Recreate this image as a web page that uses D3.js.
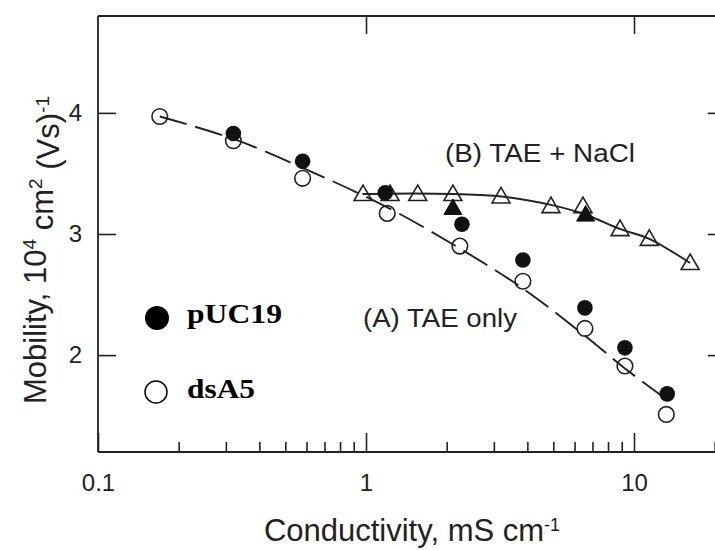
<!DOCTYPE html>
<html>
<head>
<meta charset="utf-8">
<script src="https://cdn.jsdelivr.net/npm/d3@7"></script>
<style>
  html, body { margin: 0; padding: 0; background: #fff; }
  svg { display: block; }
</style>
</head>
<body>
<div id="chart"></div>
<script>
// Data
const dsA5Cond = [0.17, 0.32, 0.58, 1.2, 2.24, 3.85, 6.56, 9.25, 13.2];
const dsA5Mob = [3.97, 3.77, 3.46, 3.17, 2.90, 2.61, 2.22, 1.91, 1.51];

const pUC19Cond = [0.32, 0.58, 1.18, 2.28, 3.85, 6.56, 9.25, 13.3];
const pUC19Mob = [3.83, 3.60, 3.34, 3.08, 2.785, 2.39, 2.06, 1.68];

const naclOpenCond = [0.975, 1.23, 1.56, 2.11, 3.19, 4.90, 6.45, 8.87, 11.4, 16.2];
const naclOpenMob = [3.33, 3.33, 3.33, 3.33, 3.31, 3.23, 3.23, 3.04, 2.96, 2.76];

const naclFilledCond = [2.11, 6.6];
const naclFilledMob = [3.215, 3.16];

// fitted curves (A dashed, B solid)
const fitACond = [0.17, 0.32, 0.575, 1.2, 2.24, 3.85, 6.56, 9.25, 13.9];
const fitAMob = [3.97, 3.785, 3.55, 3.22, 2.88, 2.55, 2.16, 1.89, 1.60];
const fitBCond = [0.97, 1.5, 2.1, 3.2, 4.9, 6.5, 8.9, 11.4, 16.2];
const fitBMob = [3.33, 3.335, 3.33, 3.31, 3.24, 3.165, 3.04, 2.96, 2.76];

const xMajor = [0.1, 1, 10];
const xMinor = [0.2, 0.3, 0.4, 0.5, 0.6, 0.7, 0.8, 0.9, 2, 3, 4, 5, 6, 7, 8, 9, 20];
const yTicks = [2, 3, 4];

const legendLabels = ["pUC19", "dsA5"];
const curveLabels = ["(A) TAE only", "(B) TAE + NaCl"];

const width = 715, height = 550;
const ink = "#222";

const svg = d3.select("#chart").append("svg")
  .attr("width", width)
  .attr("height", height)
  .style("font-family", "'Liberation Sans', Arial, Helvetica, sans-serif");

// Scales
const x = d3.scaleLog().domain([0.1, 22]).range([98, 98 + 268 * Math.log10(220)]);
const y = d3.scaleLinear().domain([1.2, 4.8]).range([452, 16]);

const zip = (a, b) => a.map((v, i) => [v, b[i]]);

// Bottom axis, major ticks with labels
svg.append("g")
  .attr("transform", `translate(0,${y(1.2)})`)
  .call(d3.axisBottom(x).tickValues(xMajor).tickSize(-19).tickSizeOuter(0).tickPadding(22)
    .tickFormat(d => d3.format("~g")(d)))
  .call(g => g.select(".domain").remove())
  .call(g => g.selectAll("line").attr("stroke", ink).attr("stroke-width", 1.6))
  .call(g => g.selectAll("text").attr("fill", ink).style("font-size", "24px"));

// Bottom axis, minor ticks
svg.append("g")
  .attr("transform", `translate(0,${y(1.2)})`)
  .call(d3.axisBottom(x).tickValues(xMinor).tickSize(-10).tickSizeOuter(0).tickFormat(""))
  .call(g => g.select(".domain").remove())
  .call(g => g.selectAll("line").attr("stroke", ink).attr("stroke-width", 1.6));

// Top axis
svg.append("g")
  .attr("transform", `translate(0,${y(4.8)})`)
  .call(d3.axisTop(x).tickValues([1, 10]).tickSize(-18).tickSizeOuter(0).tickFormat(""))
  .call(g => g.select(".domain").remove())
  .call(g => g.selectAll("line").attr("stroke", ink).attr("stroke-width", 1.6));

// Left axis
svg.append("g")
  .attr("transform", `translate(${x(0.1)},0)`)
  .call(d3.axisLeft(y).tickValues(yTicks).tickSize(-18).tickSizeOuter(0).tickPadding(16)
    .tickFormat(d3.format("d")))
  .call(g => g.select(".domain").remove())
  .call(g => g.selectAll("line").attr("stroke", ink).attr("stroke-width", 1.6))
  .call(g => g.selectAll("text").attr("fill", ink).style("font-size", "24px"));

// Right axis (line itself sits just off the picture)
svg.append("g")
  .attr("transform", `translate(${x(22)},0)`)
  .call(d3.axisRight(y).tickValues(yTicks).tickSize(-18).tickSizeOuter(0).tickFormat(""))
  .call(g => g.select(".domain").remove())
  .call(g => g.selectAll("line").attr("stroke", ink).attr("stroke-width", 1.6));

// Frame lines
const frame = svg.append("g").attr("stroke", ink).attr("stroke-width", 1.8).attr("fill", "none");
frame.append("line").attr("x1", x(0.1)).attr("x2", x(22)).attr("y1", y(1.2)).attr("y2", y(1.2));
frame.append("line").attr("x1", x(0.1)).attr("x2", x(22)).attr("y1", y(4.8)).attr("y2", y(4.8));
frame.append("line").attr("x1", x(0.1)).attr("x2", x(0.1)).attr("y1", y(1.2)).attr("y2", y(4.8));
frame.append("line").attr("x1", x(22)).attr("x2", x(22)).attr("y1", y(1.2)).attr("y2", y(4.8));

// Axis titles
const xTitle = svg.append("text")
  .attr("x", 412)
  .attr("y", 541)
  .attr("text-anchor", "middle")
  .attr("fill", ink)
  .style("font-size", "31px");
xTitle.append("tspan").text("Conductivity, mS cm");
xTitle.append("tspan").attr("dy", "-0.55em").style("font-size", "18px").text("-1");

const yTitle = svg.append("text")
  .attr("transform", "translate(46,250) rotate(-90)")
  .attr("text-anchor", "middle")
  .attr("fill", ink)
  .style("font-size", "31px");
yTitle.append("tspan").text("Mobility, 10");
yTitle.append("tspan").attr("dy", "-0.55em").style("font-size", "19px").text("4");
yTitle.append("tspan").attr("dy", "0.55em").text(" cm");
yTitle.append("tspan").attr("dy", "-0.55em").style("font-size", "19px").text("2");
yTitle.append("tspan").attr("dy", "0.55em").text(" (Vs)");
yTitle.append("tspan").attr("dy", "-0.55em").style("font-size", "19px").text("-1");

// Triangle marker path
const tri = "M0,-9L9,6.5L-9,6.5Z";

// Open markers first (lines pass over them)
svg.append("g").selectAll("circle")
  .data(zip(dsA5Cond, dsA5Mob))
  .join("circle")
  .attr("cx", d => x(d[0]))
  .attr("cy", d => y(d[1]))
  .attr("r", 7.8)
  .attr("fill", "#fff")
  .attr("stroke", ink)
  .attr("stroke-width", 1.6);

svg.append("g").selectAll("path")
  .data(zip(naclOpenCond, naclOpenMob))
  .join("path")
  .attr("transform", d => `translate(${x(d[0])},${y(d[1])})`)
  .attr("d", tri)
  .attr("fill", "#fff")
  .attr("stroke", ink)
  .attr("stroke-width", 1.6);

// Fit curves
const line = d3.line()
  .x(d => x(d[0]))
  .y(d => y(d[1]))
  .curve(d3.curveCatmullRom);

svg.append("path")
  .datum(zip(fitACond, fitAMob))
  .attr("d", line)
  .attr("fill", "none")
  .attr("stroke", ink)
  .attr("stroke-width", 1.9)
  .attr("stroke-dasharray", "28,9");

svg.append("path")
  .datum(zip(fitBCond, fitBMob))
  .attr("d", line)
  .attr("fill", "none")
  .attr("stroke", ink)
  .attr("stroke-width", 1.9);

// Filled markers
svg.append("g").selectAll("path")
  .data(zip(naclFilledCond, naclFilledMob))
  .join("path")
  .attr("transform", d => `translate(${x(d[0])},${y(d[1])})`)
  .attr("d", tri)
  .attr("fill", "#111")
  .attr("stroke", "#111")
  .attr("stroke-width", 1);

svg.append("g").selectAll("circle")
  .data(zip(pUC19Cond, pUC19Mob))
  .join("circle")
  .attr("cx", d => x(d[0]))
  .attr("cy", d => y(d[1]))
  .attr("r", 7.8)
  .attr("fill", "#111");

// Curve labels
svg.append("text")
  .attr("x", 363).attr("y", 327)
  .attr("fill", ink)
  .attr("textLength", 154)
  .attr("lengthAdjust", "spacingAndGlyphs")
  .style("font-size", "25px")
  .text(curveLabels[0]);

svg.append("text")
  .attr("x", 445).attr("y", 162)
  .attr("fill", ink)
  .attr("textLength", 190)
  .attr("lengthAdjust", "spacingAndGlyphs")
  .style("font-size", "25px")
  .text(curveLabels[1]);

// Legend
const legend = svg.append("g");
legend.append("circle").attr("cx", 157).attr("cy", 318).attr("r", 12).attr("fill", "#000");
legend.append("circle").attr("cx", 156).attr("cy", 392).attr("r", 11).attr("fill", "#fff")
  .attr("stroke", "#000").attr("stroke-width", 1.5);

legend.selectAll("text")
  .data(legendLabels)
  .join("text")
  .attr("x", 187)
  .attr("y", (d, i) => i === 0 ? 323 : 398)
  .attr("textLength", (d, i) => i === 0 ? 95 : 68)
  .attr("lengthAdjust", "spacingAndGlyphs")
  .style("font-family", "'Liberation Serif', 'Times New Roman', serif")
  .style("font-weight", "bold")
  .style("font-size", "27px")
  .attr("fill", "#000")
  .text(d => d);
</script>
</body>
</html>
